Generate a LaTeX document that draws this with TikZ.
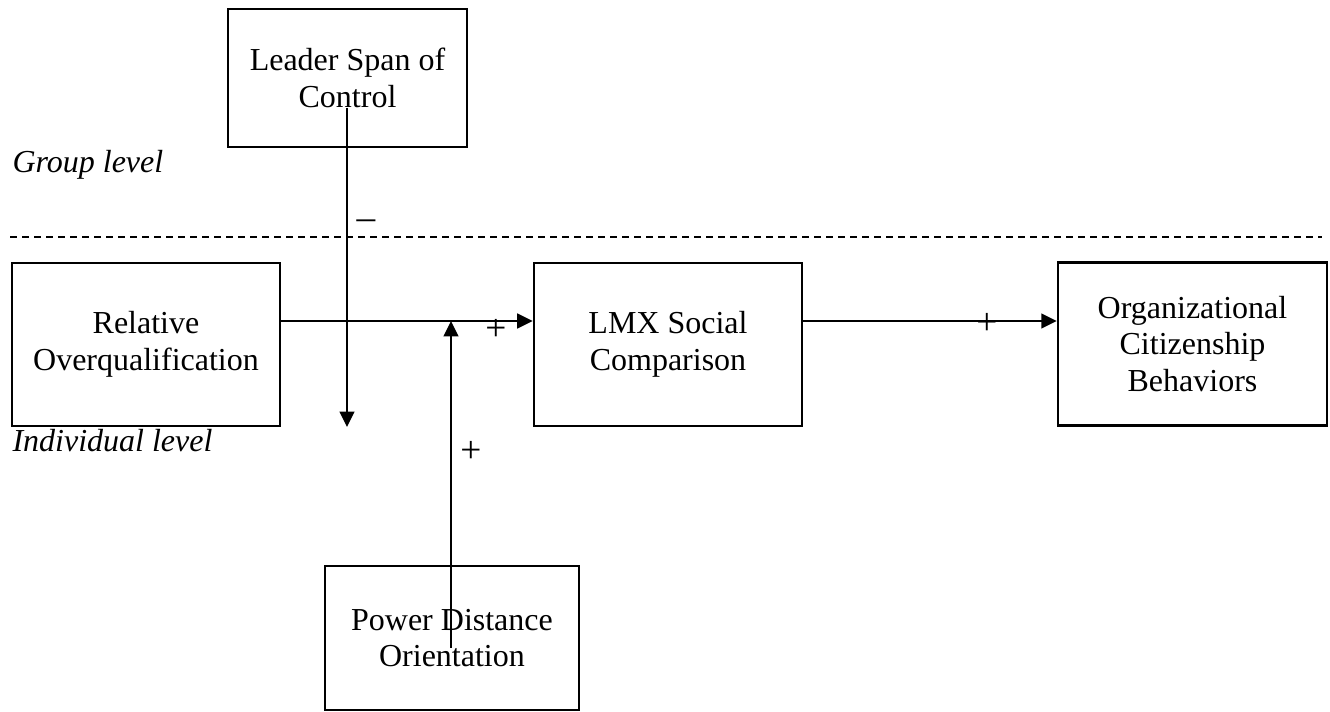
\documentclass[tikz,border=0pt]{standalone}
\usepackage{fontspec}
\setmainfont{Liberation Serif}
\usetikzlibrary{arrows.meta}
\begin{document}
\begin{tikzpicture}[x=0.375pt,y=-0.375pt,
  box/.style={draw,line width=1pt,inner sep=0pt,align=center,font=\fontsize{12}{13.8}\selectfont},
  arr/.style={line width=0.6pt,-{Triangle[length=5.8pt,width=5.6pt]}},
  sign/.style={font=\fontsize{14}{16}\selectfont,inner sep=0pt},
  lvl/.style={font=\fontsize{12}{13.8}\selectfont\itshape,inner sep=0pt,anchor=base west},
  sep/.style={line width=0.5pt,dash pattern=on 2.6pt off 1.9pt}]
\useasboundingbox (0,0) rectangle (1330,712);
% boxes
\node[box,minimum width=89.6pt,minimum height=51.75pt] (leader) at (347.5,78) {Leader Span of\\Control};
\node[box,minimum width=100.5pt,minimum height=61.1pt] (rel) at (146,344.5) {Relative\\Overqualification};
\node[box,minimum width=100.5pt,minimum height=61.1pt] (lmx) at (668,344.5) {LMX Social\\Comparison};
\node[box,minimum width=100.8pt,minimum height=61.1pt] (ocb) at (1192.5,344) {Organizational\\Citizenship\\Behaviors};
\node[box,minimum width=95.25pt,minimum height=54pt] (pdo) at (452,638) {Power Distance\\Orientation};
% level labels
\node[lvl] (grp) at (12,173) {Group level};
\node[lvl] (ind) at (12,452) {Individual level};
% separator
\coordinate (sepL) at (10,237);
\coordinate (sepR) at (1322,237);
\draw[sep] (sepL) -- (sepR);
% connectors
\coordinate (mid) at (0,321);
\coordinate (lstart) at (347,108);
\coordinate (ltip) at (347,427);
\coordinate (pstart) at (451,648);
\coordinate (ptip) at (451,321);
\draw[arr] (rel.east |- mid) -- (lmx.west |- mid);
\draw[arr] (lmx.east |- mid) -- (ocb.west |- mid);
\draw[arr] (lstart) -- (ltip);
\draw[arr] (pstart) -- (ptip);
% signs
\node[sign] (minus) at (366,225) {–};
\node[sign] (p1) at (496,330) {+};
\node[sign] (p2) at (471,452) {+};
\node[sign] (p3) at (987,324) {+};
\end{tikzpicture}
\end{document}
